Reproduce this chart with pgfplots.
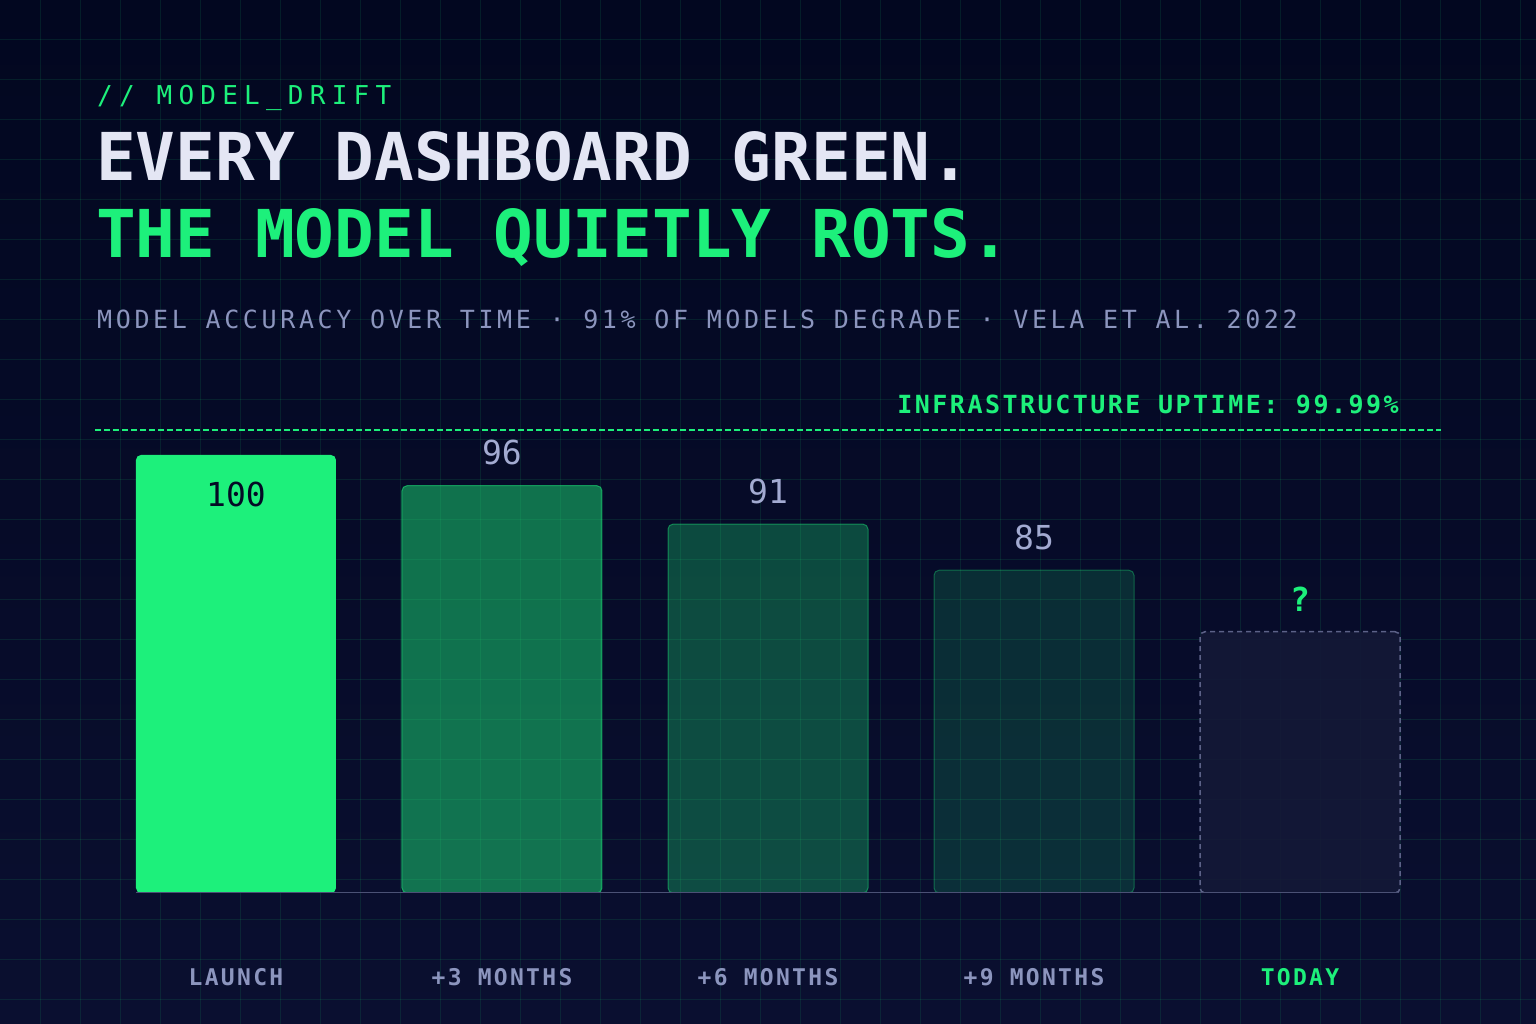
\documentclass[border=0pt]{standalone}
\usepackage{pgfplots}
\pgfplotsset{compat=1.18}
\usepackage{fontspec}
\setmainfont{DejaVu Sans Mono}
\newfontfamily\kickfont[LetterSpace=24]{DejaVu Sans Mono}
\newfontfamily\subfont[LetterSpace=14.5]{DejaVu Sans Mono}
\newfontfamily\infofont[LetterSpace=10]{DejaVu Sans Mono}
\newfontfamily\labfont[LetterSpace=10]{DejaVu Sans Mono}

\definecolor{bgtop}{HTML}{020720}
\definecolor{bgbot}{HTML}{0A0F30}
\definecolor{neon}{HTML}{1DF07B}
\definecolor{ink}{HTML}{E4E6F4}
\definecolor{muted}{HTML}{8C95BE}
\definecolor{lav}{HTML}{A3ABD2}
\definecolor{navy}{HTML}{040A25}
\definecolor{ghost}{HTML}{141937}
\definecolor{ghostline}{HTML}{5C6288}
\definecolor{baseln}{HTML}{4B5175}

\newcommand\valfont{\fontsize{33}{36}\selectfont}

\begin{document}
\begin{tikzpicture}[x=1pt,y=1pt]
% background and grid
\shade[top color=bgtop,bottom color=bgbot] (0,0) rectangle (1536,1024);
\useasboundingbox (0,0) rectangle (1536,1024);
\foreach \i in {1,...,38}
  \draw[neon,opacity=0.1,line width=1pt] (40*\i,0) -- (40*\i,1024);
\foreach \j in {1,...,25}
  \draw[neon,opacity=0.1,line width=1pt] (0,1024-40*\j) -- (1536,1024-40*\j);

% header
\node[anchor=base west,inner sep=0,text=neon,font=\kickfont\fontsize{26}{30}\selectfont]
  at (97,919) {// MODEL\_DRIFT};
\node[anchor=base west,inner sep=0,text=ink,font=\bfseries\fontsize{66}{70}\selectfont]
  at (96,843) {EVERY DASHBOARD GREEN.};
\node[anchor=base west,inner sep=0,text=neon,font=\bfseries\fontsize{66}{70}\selectfont]
  at (96,766) {THE MODEL QUIETLY ROTS.};
\node[anchor=base west,inner sep=0,text=muted,font=\subfont\fontsize{25}{30}\selectfont]
  at (97,695) {MODEL ACCURACY OVER TIME · 91\% OF MODELS DEGRADE · VELA ET AL. 2022};
\node[anchor=base east,inner sep=0,text=neon,font=\infofont\bfseries\fontsize{25}{30}\selectfont]
  at (1399,610) {INFRASTRUCTURE UPTIME: 99.99\%};

\begin{axis}[
  at={(95pt,131pt)}, anchor=south west,
  scale only axis,
  width=1346pt, height=591.7pt,
  xmin=-0.53, xmax=4.53,
  ymin=43, ymax=120,
  axis line style={draw=none},
  major tick length=0pt,
  xtick={0,1,2,3,4},
  xticklabels={LAUNCH,+3 MONTHS,+6 MONTHS,+9 MONTHS,\textcolor{neon}{TODAY}},
  ytick=\empty,
  xticklabel style={anchor=base, yshift=-93pt, inner sep=0pt, text=muted,
    font=\labfont\bfseries\fontsize{23}{26}\selectfont},
  point meta=explicit symbolic,
]
% uptime reference line
\addplot[neon, line width=2pt, dash pattern=on 6pt off 3pt]
  coordinates {(-0.53,103.25) (4.53,103.25)};
% launch
\addplot[ybar, bar width=200pt, fill=neon, draw=none, rounded corners=5pt,
  nodes near coords,
  every node near coord/.style={anchor=base, yshift=-52pt, text=navy, font=\valfont}]
  coordinates {(0,100) [100]};
% +3 months
\addplot[ybar, bar width=200pt, fill=neon, fill opacity=0.45, draw=neon, draw opacity=0.55,
  line width=1pt, rounded corners=5pt,
  nodes near coords,
  every node near coord/.style={anchor=base, yshift=21pt, text=lav, text opacity=1, font=\valfont}]
  coordinates {(1,96) [96]};
% +6 months
\addplot[ybar, bar width=200pt, fill=neon, fill opacity=0.28, draw=neon, draw opacity=0.45,
  line width=1pt, rounded corners=5pt,
  nodes near coords,
  every node near coord/.style={anchor=base, yshift=21pt, text=lav, text opacity=1, font=\valfont}]
  coordinates {(2,91) [91]};
% +9 months
\addplot[ybar, bar width=200pt, fill=neon, fill opacity=0.15, draw=neon, draw opacity=0.35,
  line width=1pt, rounded corners=5pt,
  nodes near coords,
  every node near coord/.style={anchor=base, yshift=21pt, text=lav, text opacity=1, font=\valfont}]
  coordinates {(3,85) [85]};
% today (unknown)
\addplot[ybar, bar width=200pt, fill=ghost, fill opacity=0.9, draw=ghostline,
  line width=1.5pt, dash pattern=on 5pt off 4pt, rounded corners=5pt,
  nodes near coords,
  every node near coord/.style={anchor=base, yshift=20pt, text=neon, text opacity=1,
    font=\bfseries\valfont}]
  coordinates {(4,77) [?]};
\end{axis}
\draw[baseln, line width=1pt] (136,131) -- (1399,131);
\end{tikzpicture}
\end{document}
